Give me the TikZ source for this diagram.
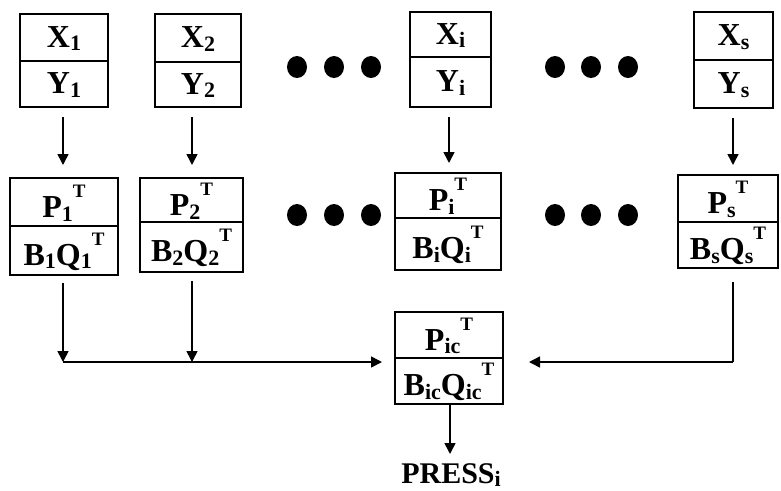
\documentclass[tikz,border=0pt]{standalone}
\usepackage{fontspec}
\setmainfont{Liberation Serif}
\usetikzlibrary{arrows.meta,calc}
\newcommand\sbs[1]{\raisebox{-0.12em}{\fontsize{22}{22}\selectfont #1}}
\newcommand\spT{\raisebox{0.62em}{\fontsize{19}{19}\selectfont T}}
\newcommand\twobox[8]{%
  \node[boxnode, minimum width={#4-#2}, minimum height={#6-#3}] (#1) at ({(#2+#4)/2},{(#3+#6)/2}) {};
  \draw[boxline] (#1.west |- 0,#5) -- (#1.east |- 0,#5);
  \node[lbl] (#1t) at ({(#2+#4)/2},{(#3+#5)/2+1}) {#7};
  \node[lbl] (#1b) at ({(#2+#4)/2},{(#5+#6)/2+1}) {#8};
}
\begin{document}
\begin{tikzpicture}[x=1pt,y=-1pt,
  boxnode/.style={draw, line width=2pt, inner sep=0pt, outer sep=0pt},
  boxline/.style={line width=2pt},
  lbl/.style={inner sep=0pt, font=\fontsize{32}{36}\selectfont\bfseries},
  arr/.style={line width=1.6pt, -{Triangle[width=11pt,length=11pt]}},
  ln/.style={line width=1.6pt},
  dot/.style={fill=black, ellipse-free/.style={}},
]
\useasboundingbox (0,0) rectangle (781,490);
% top row
\twobox{x1}{20}{14}{108}{61}{107}{X\sbs{1}}{Y\sbs{1}}
\twobox{x2}{155}{14}{241}{62}{107}{X\sbs{2}}{Y\sbs{2}}
\twobox{xi}{410}{12}{491}{57}{107}{X\sbs{i}}{Y\sbs{i}}
\twobox{xs}{694}{12}{773}{60}{108}{X\sbs{s}}{Y\sbs{s}}
% middle row
\twobox{p1}{10}{178}{118}{226}{275}{P\sbs{1}\spT}{B\sbs{1}Q\sbs{1}\spT}
\twobox{p2}{140}{178}{243}{222}{272}{P\sbs{2}\spT}{B\sbs{2}Q\sbs{2}\spT}
\twobox{pi}{395}{173}{501}{218}{270}{P\sbs{i}\spT}{B\sbs{i}Q\sbs{i}\spT}
\twobox{ps}{678}{175}{778}{222}{268}{P\sbs{s}\spT}{B\sbs{s}Q\sbs{s}\spT}
% combined
\twobox{ic}{395}{312}{503}{358}{404}{P\sbs{ic}\spT}{B\sbs{ic}Q\sbs{ic}\spT}
\node[lbl, font=\fontsize{30}{34}\selectfont\bfseries, anchor=base] (press) at (451,483) {PRESS\sbs{i}};
% dots
\foreach \cx/\n in {297/a,334/b,371/c,555/d,591/e,628/f}{
  \fill (\cx,67) ellipse [x radius=10, y radius=11];
  \fill (\cx,215) ellipse [x radius=10, y radius=11];
}
% arrow columns
\coordinate (a1) at (63,0);
\coordinate (a2) at (192,0);
\coordinate (ai) at (449,0);
\coordinate (as) at (733,0);
\coordinate (j) at (0,362);
\draw[arr] ($(x1.south -| a1)+(0,10)$) -- ($(p1.north -| a1)+(0,-13)$);
\draw[arr] ($(x2.south -| a2)+(0,10)$) -- ($(p2.north -| a2)+(0,-13)$);
\draw[arr] ($(xi.south -| ai)+(0,10)$) -- ($(pi.north -| ai)+(0,-10)$);
\draw[arr] ($(xs.south -| as)+(0,10)$) -- ($(ps.north -| as)+(0,-10)$);
% to combined
\draw[arr] ($(p1.south -| a1)+(0,8)$) -- (a1 |- j);
\draw[arr] ($(p2.south -| a2)+(0,9)$) -- (a2 |- j);
\draw[arr] (a1 |- j) -- ($(ic.west |- j)+(-13,0)$);
\draw[ln] ($(ps.south -| as)+(0,14)$) -- (as |- j);
\draw[arr] (as |- j) -- ($(ic.east |- j)+(26,0)$);
\draw[arr] (ic.south -| 450,0) -- ($(ic.south -| 450,0)+(0,50)$);
\end{tikzpicture}
\end{document}
